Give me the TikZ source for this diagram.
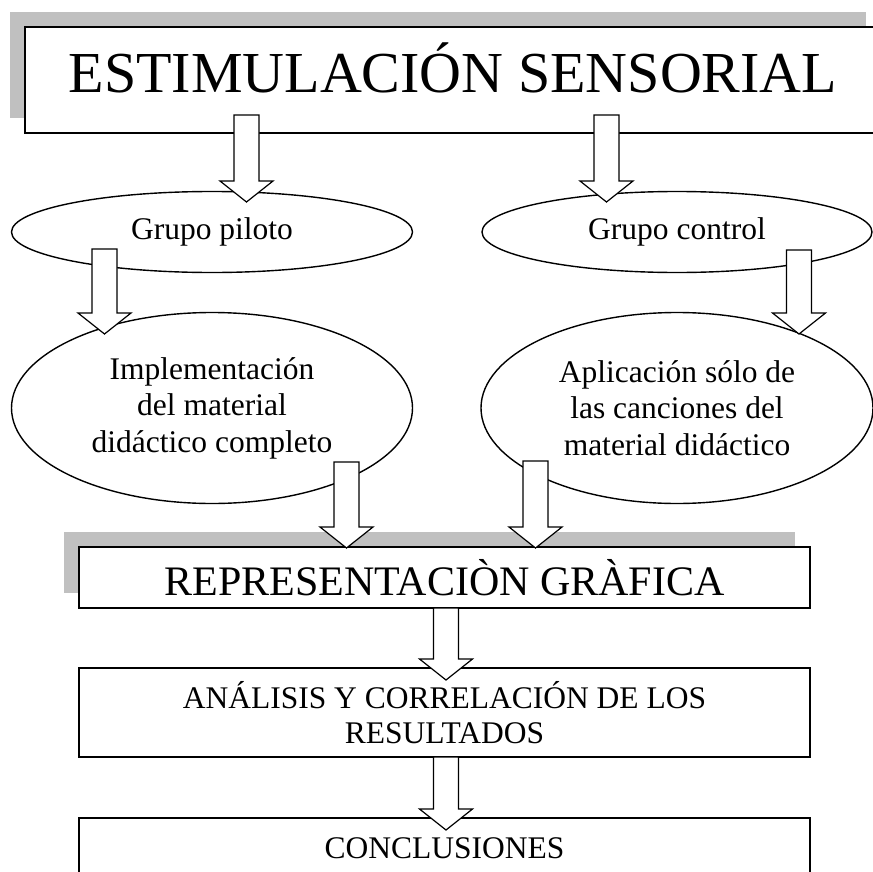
\documentclass[tikz,border=0pt]{standalone}
\usepackage{fontspec}
\setmainfont{Liberation Serif}
\usetikzlibrary{shapes.geometric, shadows, calc}
\definecolor{shadowgray}{RGB}{192,192,192}
\def\blockarrow#1#2{%
  \draw[fatarrow] let \p1=(#1), \p2=(#2) in
    (\x1-6.25pt,\y1) -- (\x1+6.25pt,\y1) -- (\x1+6.25pt,\y2+10.5pt)
    -- (\x1+13.25pt,\y2+10.5pt) -- (\x1,\y2) -- (\x1-13.25pt,\y2+10.5pt)
    -- (\x1-6.25pt,\y2+10.5pt) -- cycle;}

\begin{document}
\begin{tikzpicture}[x=0.5pt, y=-0.5pt,
  box/.style={draw, line width=1pt, fill=white, inner sep=0pt, align=center},
  shadowed/.style={drop shadow={shadow xshift=-7.5pt, shadow yshift=7.5pt, fill=shadowgray, opacity=1}},
  oval/.style={draw, ellipse, line width=0.7pt, inner sep=0pt, align=center, font=\fontsize{15.75pt}{18.25pt}\selectfont},
  fatarrow/.style={draw, fill=white, line width=0.6pt, line join=miter}]
  \useasboundingbox (0,0) rectangle (872,872);
  \node[box, shadowed, minimum width=428pt, minimum height=53pt, text height=20pt, text depth=7pt, font=\fontsize{29pt}{35pt}\selectfont] (estim) at (453,80) {ESTIMULACIÓN SENSORIAL};
  \node[oval, minimum width=200.5pt, minimum height=40.5pt] (piloto) at (212,232) {Grupo piloto};
  \node[oval, minimum width=195pt, minimum height=40.5pt] (control) at (677,232) {Grupo control};
  \node[oval, minimum width=200.5pt, minimum height=95.5pt] (implem) at (212,408) {Implementación\\del material\\didáctico completo};
  \node[oval, minimum width=196pt, minimum height=95.5pt] (aplic) at (677,408) {Aplicación sólo de\\las canciones del\\material didáctico};
  \node[box, shadowed, minimum width=365.5pt, minimum height=30.5pt, font=\fontsize{21pt}{25pt}\selectfont] (repre) at (444.5,577.5) {REPRESENTACIÒN GRÀFICA};
  \node[box, minimum width=365.5pt, minimum height=44.5pt, font=\fontsize{15.75pt}{17.5pt}\selectfont] (analisis) at (444.5,712.5) {ANÁLISIS Y CORRELACIÓN DE LOS\\RESULTADOS};
  \node[box, minimum width=365.5pt, minimum height=30pt, font=\fontsize{15.75pt}{17.5pt}\selectfont] (concl) at (444.5,848) {CONCLUSIONES};
  % arrow ends
  \coordinate (e1) at (246.5,115); \coordinate (p1) at (246.5,202);
  \coordinate (e2) at (606.5,115); \coordinate (c1) at (606.5,202);
  \coordinate (p2) at (104.5,249); \coordinate (i1) at (104.5,334);
  \coordinate (c2) at (799,250);   \coordinate (a1) at (799,334);
  \coordinate (i2) at (346.5,462); \coordinate (r1) at (346.5,548);
  \coordinate (a2) at (535.5,461); \coordinate (r2) at (535.5,548);
  \coordinate (r3) at (446,608);   \coordinate (n1) at (446,680);
  \coordinate (n2) at (446,757);   \coordinate (k1) at (446,830);
  \blockarrow{e1}{p1}
  \blockarrow{e2}{c1}
  \blockarrow{p2}{i1}
  \blockarrow{c2}{a1}
  \blockarrow{i2}{r1}
  \blockarrow{a2}{r2}
  \blockarrow{r3}{n1}
  \blockarrow{n2}{k1}
\end{tikzpicture}
\end{document}
